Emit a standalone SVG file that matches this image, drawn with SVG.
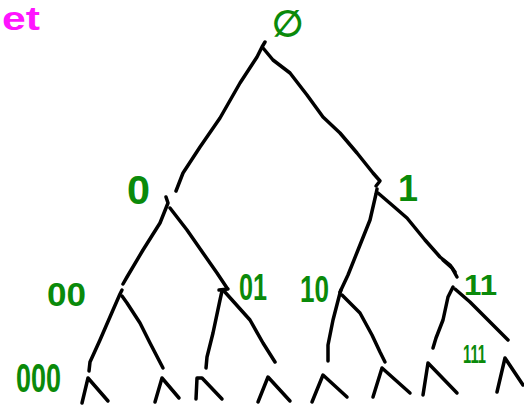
<svg xmlns="http://www.w3.org/2000/svg" width="524" height="411" viewBox="0 0 524 411">
<style>
.e{fill:none;stroke:#000;stroke-width:3.5;stroke-linecap:round;stroke-linejoin:round}
.l{fill:#0a8a0a;font-family:"Liberation Sans",Arial,sans-serif;font-weight:bold}
.m{fill:#ff14ff;font-family:"Liberation Sans",Arial,sans-serif;font-weight:bold}
</style>
<rect width="524" height="411" fill="#fff"/>
<g id="connectors">
<path class="e" d="M265,42 L262,47 L257,57 L240,83 L220,118 L200,147 L183,173 L176,191"/>
<path class="e" d="M263,48 L273,60 L290,73 L307,95 L323,117 L340,133 L357,153 L373,173 L380,181 L376,186"/>
<path class="e" d="M166,197 L168,203 L160,223 L143,250 L127,277 L123,284"/>
<path class="e" d="M170,208 L187,230 L203,253 L217,273 L227,288"/>
<path class="e" d="M377,189 L376,194 L370,220 L358,250 L348,275 L340,292"/>
<path class="e" d="M378,193 L392,205 L407,218 L425,240 L440,257 L450,265 L455,272"/>
<path class="e" d="M122,290 L120,294 L113,310 L100,340 L90,362 L89,371"/>
<path class="e" d="M122,296 L127,303 L140,323 L150,343 L163,368"/>
<path class="e" d="M219,290 L228,289"/>
<path class="e" d="M222,291 L220,300 L213,333 L207,357 L206,368"/>
<path class="e" d="M224,291 L250,320 L263,343 L275,362"/>
<path class="e" d="M341,290 L340,293 L333,320 L328,345 L328,361"/>
<path class="e" d="M342,295 L360,313 L372,335 L380,352 L385,362"/>
<path class="e" d="M443,260 L452,268 L457,277"/>
<path class="e" d="M453,287 L448,297 L443,320 L436,338 L433,348"/>
<path class="e" d="M455,289 L470,302 L488,320 L500,332 L508,340"/>
<path class="e" d="M82,403 L88,378 L108,401"/>
<path class="e" d="M155,402 L162,378 L179,398"/>
<path class="e" d="M196,399 L197,378 L202,378 L222,399"/>
<path class="e" d="M258,402 L268,377 L290,401"/>
<path class="e" d="M312,402 L323,375 L347,397"/>
<path class="e" d="M373,397 L382,368 L410,393"/>
<path class="e" d="M423,395 L428,363 L457,393"/>
<path class="e" d="M497,392 L505,358 L523,385"/>
</g>
<g id="label-et"><text class="m" x="2" y="30" font-size="33" textLength="38" lengthAdjust="spacingAndGlyphs">et</text></g>
<g id="node-root"><text class="l" x="287" y="36" font-size="36" text-anchor="middle">∅</text></g>
<g id="node-0"><text class="l" x="127" y="204" font-size="40" textLength="23" lengthAdjust="spacingAndGlyphs">0</text></g>
<g id="node-1"><text class="l" x="398" y="201" font-size="36">1</text></g>
<g id="node-00"><text class="l" x="47" y="306" font-size="33" textLength="39" lengthAdjust="spacingAndGlyphs">00</text></g>
<g id="node-01"><text class="l" x="239" y="300" font-size="37" textLength="28" lengthAdjust="spacingAndGlyphs">01</text></g>
<g id="node-10"><text class="l" x="300" y="302" font-size="36" textLength="29" lengthAdjust="spacingAndGlyphs">10</text></g>
<g id="node-11"><text class="l" x="464" y="295" font-size="30" textLength="33" lengthAdjust="spacingAndGlyphs">11</text></g>
<g id="node-000"><text class="l" x="16" y="392" font-size="40" textLength="45" lengthAdjust="spacingAndGlyphs">000</text></g>
<g id="node-111"><text class="l" x="463" y="363" font-size="26" textLength="23" lengthAdjust="spacingAndGlyphs">111</text></g>
</svg>
